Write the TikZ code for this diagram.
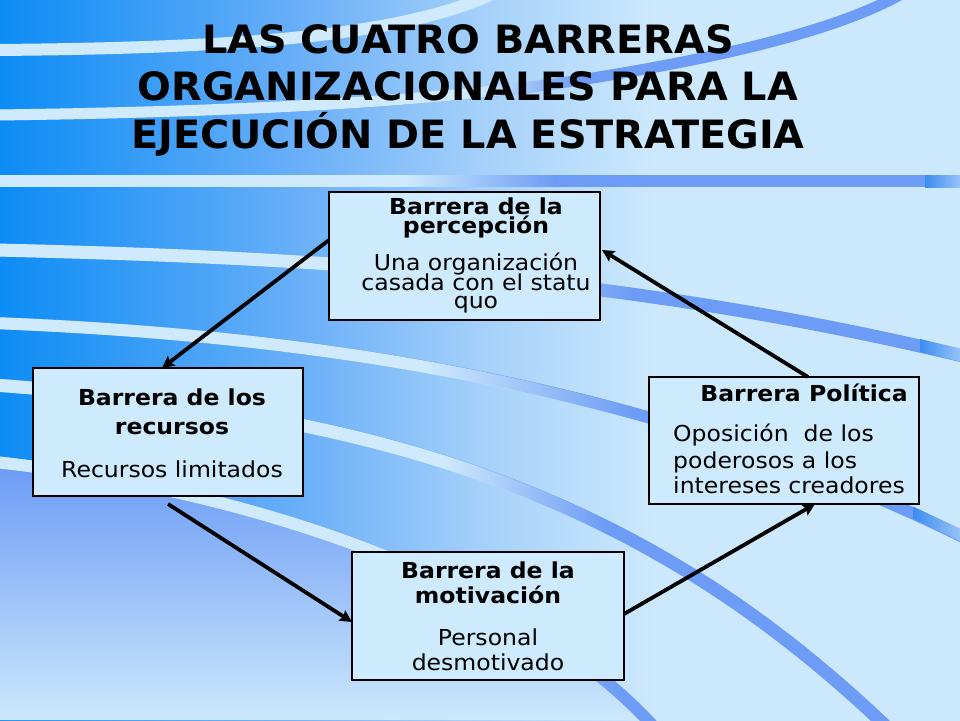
\documentclass[tikz,border=0pt]{standalone}
\usepackage{fontspec}
\setmainfont{DejaVu Sans}
\newfontfamily\titlefont{DejaVu Sans}[FakeStretch=1.02]
\newfontfamily\boxfont{DejaVu Sans}[FakeStretch=1.07]
\usetikzlibrary{arrows.meta,fadings}

\definecolor{bgA}{RGB}{12,140,245}
\definecolor{bgB}{RGB}{108,176,248}
\definecolor{bgC}{RGB}{164,208,250}
\definecolor{bgD}{RGB}{204,232,252}
\definecolor{stripeL}{RGB}{208,234,253}
\definecolor{stripeD}{RGB}{108,156,245}
\definecolor{lav}{RGB}{106,154,245}
\definecolor{boxfill}{RGB}{206,234,253}
\definecolor{glintA}{RGB}{60,140,240}
\definecolor{glintB}{RGB}{150,195,248}

\pgfdeclarehorizontalshading{bgshade}{100bp}{color(0bp)=(bgA); color(25bp)=(bgA); color(41bp)=(bgB); color(50bp)=(bgC); color(59bp)=(bgD); color(100bp)=(bgD)}

\newcommand\mkfade[3]{%
  \pgfdeclarehorizontalshading{sh#1}{100bp}{color(0bp)=(pgftransparent!0); color(#2bp)=(pgftransparent!0); color(#3bp)=(pgftransparent!100); color(100bp)=(pgftransparent!100)}%
  \pgfdeclarefading{#1}{\pgfuseshading{sh#1}}}
\mkfade{fadeAB}{47}{57.5}
\mkfade{fadeC}{50}{59}
\mkfade{fadeD}{56}{72}
\mkfade{fadeT}{51.5}{57}
\mkfade{fadeH}{46}{54}

\newcommand\bgstripe[3]{%
  \draw[stripeD, line width=#2] #3;
  \draw[stripeL, line width=#2, path fading=#1] #3;}

\tikzset{
  box/.style={draw=black, line width=1.3pt, fill=boxfill, inner sep=0pt, outer sep=0pt},
  btxt/.style={inner sep=0pt, anchor=base, font=\boxfont\bfseries\fontsize{22}{22}\selectfont},
  ntxt/.style={inner sep=0pt, anchor=base, font=\boxfont\fontsize{22}{22}\selectfont},
  ttl/.style={inner sep=0pt, anchor=base, font=\titlefont\bfseries\fontsize{39}{47}\selectfont},
  arr/.style={line width=3.8pt, -{Stealth[length=12pt,width=12pt,inset=2pt]}}
}

\begin{document}
\begin{tikzpicture}[x=1pt,y=-1pt]
\useasboundingbox (0,0) rectangle (960,720);
\begin{scope}
  \clip (0,0) rectangle (960,720);
  \shade[shading=bgshade] (0,0) rectangle (960,720);
  \shade[top color=lav, bottom color=bgD] (0,462) .. controls (250,490) and (520,580) .. (650,720) -- (0,720) -- cycle;
  % top stripes
  \draw[stripeL, line width=12pt] (-5,50) .. controls (250,48) and (400,35) .. (490,-5);
  \bgstripe{fadeT}{11pt}{(-5,115) .. controls (250,112) and (450,100) .. (580,80) .. controls (720,58) and (840,30) .. (905,-8)}
  % horizontal band
  \fill[stripeD] (0,175) rectangle (960,187);
  \fill[stripeL, path fading=fadeH] (0,175) rectangle (960,187);
  % curved stripes
  \bgstripe{fadeAB}{13pt}{(-5,250) .. controls (350,258) and (650,280) .. (975,359)}
  \bgstripe{fadeAB}{12pt}{(-5,323) .. controls (300,335) and (650,380) .. (975,543)}
  \bgstripe{fadeC}{13pt}{(-5,385) .. controls (400,415) and (650,500) .. (890,730)}
  \bgstripe{fadeD}{12pt}{(-5,462) .. controls (250,490) and (520,580) .. (655,728)}
  % glints
  \shade[left color=glintA, middle color=white, right color=glintB] (925,175) rectangle (960,187);
  \shade[left color=glintA, middle color=white, right color=glintB] (920,339) -- (960,348.5) -- (960,361.5) -- (920,352) -- cycle;
  \shade[left color=glintA, middle color=white, right color=glintB] (913,506.5) -- (960,529) -- (960,541) -- (913,518.5) -- cycle;
\end{scope}

% title
\node[ttl] (t1) at (468,53) {LAS CUATRO BARRERAS};
\node[ttl] (t2) at (468,100) {ORGANIZACIONALES PARA LA};
\node[ttl] (t3) at (468,148) {EJECUCIÓN DE LA ESTRATEGIA};

% boxes
\node[box, minimum width=271pt, minimum height=128pt] (p) at (464.5,256) {};
\node[box, minimum width=270pt, minimum height=128pt] (r) at (168,432) {};
\node[box, minimum width=270pt, minimum height=127pt] (pol) at (784,440.5) {};
\node[box, minimum width=272pt, minimum height=128pt] (m) at (488,616) {};

% percepcion
\node[btxt] (p1) at (476,214.3) {Barrera de la};
\node[btxt] (p2) at (476,233.3) {percepción};
\node[ntxt] (p3) at (476,270.7) {Una organización};
\node[ntxt] (p4) at (476,290) {casada con el statu};
\node[ntxt] (p5) at (476,308.3) {quo};

% recursos
\node[btxt] (r1) at (172,405) {Barrera de los};
\node[btxt] (r2) at (172,434) {recursos};
\node[ntxt] (r3) at (172,477.5) {Recursos limitados};

% politica
\node[btxt, anchor=base east] (q1) at (908,401.7) {Barrera Política};
\node[ntxt, anchor=base west] (q2) at (673,441.7) {Oposición\ \ de los};
\node[ntxt, anchor=base west] (q3) at (673,468.3) {poderosos a los};
\node[ntxt, anchor=base west] (q4) at (673,493.3) {intereses creadores};

% motivacion
\node[btxt] (m1) at (488,578.5) {Barrera de la};
\node[btxt] (m2) at (488,603.8) {motivación};
\node[ntxt] (m3) at (488,645) {Personal};
\node[ntxt] (m4) at (488,670.3) {desmotivado};

% arrows
\draw[arr] ([yshift=16pt]p.west) -- ([xshift=-6pt]r.north);
\draw[arr] ([yshift=-8pt]r.south) -- ([yshift=-6pt]m.west);
\draw[arr] ([yshift=2pt]m.east) -- ([xshift=31pt]pol.south);
\draw[arr] ([xshift=24pt]pol.north) -- ([xshift=2pt,yshift=6pt]p.east);
\end{tikzpicture}
\end{document}
